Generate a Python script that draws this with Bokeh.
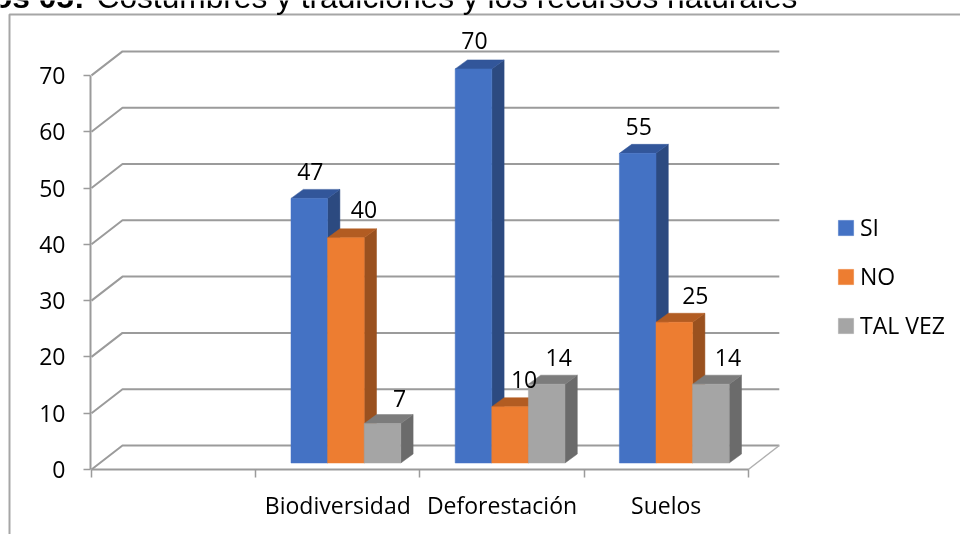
from bokeh.plotting import figure
from bokeh.models import (ColumnDataSource, FixedTicker, Legend, LegendItem, Range1d,
                          LinearAxis, Label, BoxAnnotation)
from bokeh.core.properties import value
from bokeh.embed import file_html
from bokeh.resources import INLINE

categories = ["", "Biodiversidad", "Deforestación", "Suelos"]
si = [47, 70, 55]
no = [40, 10, 25]
tal_vez = [7, 14, 14]
series_names = ["SI", "NO", "TAL VEZ"]
y_ticks = [0, 10, 20, 30, 40, 50, 60, 70]

FONT = "Open Sans"
FS = "23px"
GRID = "#9b9b9b"
FRONT = ["#4472C4", "#ED7D31", "#A5A5A5"]
SIDE = ["#2C4A80", "#9A511F", "#6B6B6B"]
TOP = ["#32569A", "#B25C22", "#7C7C7C"]

W, H = 960, 534
X0, Y0 = 91, 469  # page position of the origin
X_UNIT = 164.2    # px per category
Y_UNIT = 5.63     # px per value unit
WALL_DX = 31 / X_UNIT
WALL_DY = 24 / Y_UNIT
BAR_W = 36.6 / X_UNIT
BAR_DX = 12.3 / X_UNIT
BAR_DY = 9 / Y_UNIT
BASE = 6.5 / Y_UNIT
GROUP_LEFT = [1.215, 2.215, 3.215]   # left edge of each group

p = figure(width=W, height=H, output_backend="svg", toolbar_location=None,
           frame_width=W, frame_height=H,
           min_border_left=0, min_border_right=0, min_border_top=0, min_border_bottom=0,
           x_range=Range1d(-X0 / X_UNIT, (W - X0) / X_UNIT),
           y_range=Range1d(-(H - Y0) / Y_UNIT, Y0 / Y_UNIT),
           x_axis_type=None, y_axis_type=None, outline_line_color=None,
           background_fill_color="white", border_fill_color="white")
p.styles = {"position": "fixed", "left": "0px", "top": "0px"}
p.grid.visible = False

# walls and floor
n = len(categories)
p.multi_line(xs=[[0, WALL_DX, n + WALL_DX] for _ in y_ticks],
             ys=[[v, v + WALL_DY, v + WALL_DY] for v in y_ticks],
             line_color=GRID, line_width=2)
p.line([n, n + WALL_DX], [0, WALL_DY], line_color="#b0b0b0", line_width=1.5)

# bars
legend_items = []
for s, vals in enumerate([si, no, tal_vez]):
    l = [g + s * BAR_W for g in GROUP_LEFT]
    r = [a + BAR_W for a in l]
    top = [v + BASE for v in vals]
    p.patches(xs=[[b, b + BAR_DX, b + BAR_DX, b] for b in r],
              ys=[[BASE, BASE + BAR_DY, t + BAR_DY, t] for t in top],
              fill_color=SIDE[s], line_color=SIDE[s], line_width=0.5)
    p.patches(xs=[[a, a + BAR_DX, b + BAR_DX, b] for a, b in zip(l, r)],
              ys=[[t, t + BAR_DY, t + BAR_DY, t] for t in top],
              fill_color=TOP[s], line_color=TOP[s], line_width=0.5)
    front = p.quad(left=l, right=r, bottom=BASE, top=top,
                   fill_color=FRONT[s], line_color=FRONT[s], line_width=0.5)
    legend_items.append(LegendItem(label=series_names[s], renderers=[front]))

# data labels (nudged as in the picture, in px relative to the bar's top centre)
nudge_x = [[1, 1, 1], [18, 14, 21], [17, 12, 17]]
nudge_y = [[27, 28, 27], [28, 27, 27], [25, 27, 27]]
for s, vals in enumerate([si, no, tal_vez]):
    src = ColumnDataSource(dict(
        x=[g + (s + 0.5) * BAR_W for g in GROUP_LEFT],
        y=[v + BASE for v in vals],
        t=[str(v) for v in vals],
        xo=nudge_x[s], yo=[-d for d in nudge_y[s]]))
    p.text("x", "y", "t", source=src, x_offset="xo", y_offset="yo",
           text_align="center", text_baseline="middle",
           text_font=value(FONT), text_font_size=FS, text_color="black")

# axes
yaxis = LinearAxis(ticker=FixedTicker(ticks=y_ticks), bounds=(0, 70),
                   fixed_location=-1 / X_UNIT,
                   axis_line_color=GRID, axis_line_width=2,
                   major_tick_line_color=GRID, major_tick_line_width=1.5,
                   major_tick_in=0, major_tick_out=7, minor_tick_in=0, minor_tick_out=0,
                   major_label_standoff=18, major_label_text_font=FONT,
                   major_label_text_font_size=FS, major_label_text_color="black")
p.add_layout(yaxis, "left")

tick_pos = [i + 0.5 for i in range(n)]
xaxis = LinearAxis(ticker=FixedTicker(ticks=tick_pos, minor_ticks=list(range(n + 1))),
                   bounds=(0, n), fixed_location=0,
                   major_label_overrides={t: c for t, c in zip(tick_pos, categories)},
                   axis_line_color=GRID, axis_line_width=2,
                   major_tick_line_color=None, major_tick_in=0, major_tick_out=0,
                   minor_tick_line_color=GRID, minor_tick_line_width=1.5,
                   minor_tick_in=0, minor_tick_out=8,
                   major_label_standoff=11, major_label_text_font=FONT,
                   major_label_text_font_size=FS, major_label_text_color="black")
p.add_layout(xaxis, "below")

legend = Legend(items=legend_items, location=(836, 193), orientation="vertical",
                glyph_width=19, glyph_height=19, label_standoff=5, spacing=17,
                padding=0, margin=0, border_line_color=None, background_fill_alpha=0,
                label_text_font=FONT, label_text_font_size=FS, label_text_color="black",
                label_height=15)
p.add_layout(legend)

# chart-area border and the caption cut off by the top of the page
p.add_layout(BoxAnnotation(left=9, right=W + 20, top=H - 14, bottom=-20,
                           left_units="screen", right_units="screen",
                           top_units="screen", bottom_units="screen",
                           fill_alpha=0, line_color="#a6a6a6", line_alpha=1, line_width=2))
p.add_layout(Label(x=84, y=H + 4, x_units="screen", y_units="screen", text="Gráficos 05:",
                   text_font="Liberation Sans", text_font_style="bold", text_font_size="31.7px",
                   text_color="black", text_baseline="alphabetic", text_align="right"))
p.add_layout(Label(x=96, y=H + 4, x_units="screen", y_units="screen",
                   text="Costumbres y tradiciones y los recursos naturales",
                   text_font="Liberation Sans", text_font_size="31.7px",
                   text_color="black", text_baseline="alphabetic"))

open("out.html", "w").write(file_html(p, INLINE))
